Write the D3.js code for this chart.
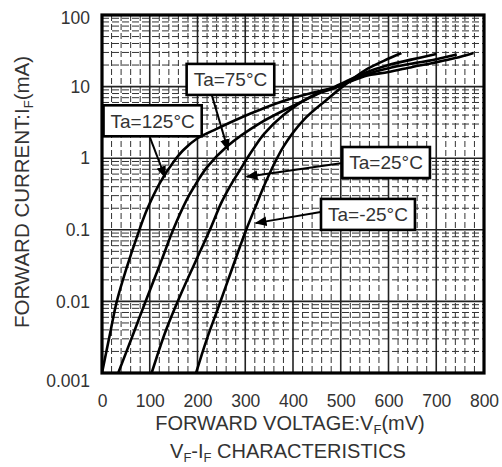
<!DOCTYPE html>
<html><head><meta charset="utf-8">
<script src="https://cdn.jsdelivr.net/npm/d3@7"></script>
<style>body{margin:0;background:#fff}svg{display:block}text{font-family:"Liberation Sans",Arial,sans-serif;fill:#333}</style>
</head><body>
<script>
// ---- data (forward voltage mV, forward current mA) ----
const xTicks = [0,100,200,300,400,500,600,700,800];
const yTicks = [0.001,0.01,0.1,1,10,100];
const yTickLabels = ["0.001","0.01","0.1","1","10","100"];

const vf125 = [0,17,31,52,73,94,121,150,170,200,240,310,380,450,490,550,600,650,693,740,778];
const if125 = [0.001,0.0036,0.01,0.03,0.079,0.19,0.45,0.89,1.29,1.9,2.57,4.17,6.3,8.5,9.8,14,16,18.8,21.4,25,29.5];

const vf75 = [34,66,90,125,149,177,191,220,261,331,415,460,490,550,600,650,693,743];
const if75 = [0.001,0.0036,0.0095,0.038,0.1,0.26,0.38,0.75,1.45,3.1,6,8.3,9.7,14.5,18,21,23.5,28];

const vf25 = [104,133,163,195,226,250,272,290,304,320,340,380,436,488,550,600,650,700];
const if25 = [0.001,0.0038,0.0117,0.035,0.1,0.24,0.45,0.7,1.0,1.45,2.2,4.0,7.2,10,15.5,20,24,28.5];

const vfm25 = [197,219,247,275,302,324,345,380,422,470,512,554,590,627];
const ifm25 = [0.001,0.0029,0.0095,0.032,0.1,0.23,0.5,1.45,3.4,6.5,11,17.4,22.9,29.5];

const seriesNames = ["Ta=125°C","Ta=75°C","Ta=25°C","Ta=-25°C"];
// label box centres and arrow (start -> tip) in data units
const labelV = [106,269,595,557];
const labelI = [3.33,12.6,0.87,0.164];
const arrowFromV = [100,230,504,458];
const arrowFromI = [1.98,7.6,0.857,0.177];
const arrowToV = [132,264,303,322];
const arrowToI = [0.546,1.30,0.552,0.124];

const W=502,H=467;
const x = d3.scaleLinear([0,800],[102,484]);
const y = d3.scaleLog([0.001,100],[373,15]);

const svg = d3.select("body").append("svg").attr("width",W).attr("height",H);
svg.append("rect").attr("width",W).attr("height",H).attr("fill","#fff");

// minor grid
const minorX = d3.range(0,801,20).filter(v=>v%100!==0);
const minorY = [];
yTicks.slice(0,-1).forEach(d=>{for(let k=2;k<=9;k++) minorY.push(d*k);});
const g = svg.append("g");
g.selectAll(".mx").data(minorX).join("line")
  .attr("x1",d=>x(d)).attr("x2",d=>x(d)).attr("y1",y(100)).attr("y2",y(0.001))
  .attr("stroke","#333").attr("stroke-width",1).attr("stroke-dasharray","6,3");
g.selectAll(".my").data(minorY).join("line")
  .attr("y1",d=>y(d)).attr("y2",d=>y(d)).attr("x1",x(0)).attr("x2",x(800))
  .attr("stroke","#333").attr("stroke-width",1).attr("stroke-dasharray","7,3");
// major grid
g.selectAll(".Mx").data(xTicks).join("line")
  .attr("x1",d=>x(d)).attr("x2",d=>x(d)).attr("y1",y(100)).attr("y2",y(0.001))
  .attr("stroke","#222").attr("stroke-width",1.6);
g.selectAll(".My").data(yTicks).join("line")
  .attr("y1",d=>y(d)).attr("y2",d=>y(d)).attr("x1",x(0)).attr("x2",x(800))
  .attr("stroke","#222").attr("stroke-width",1.6);

// curves
const allV=[vf125,vf75,vf25,vfm25], allI=[if125,if75,if25,ifm25];
const line = d3.line().x(d=>x(d[0])).y(d=>y(d[1])).curve(d3.curveCatmullRom.alpha(0.5));
const clip = svg.append("clipPath").attr("id","c").append("rect")
  .attr("x",x(0)).attr("y",y(100)).attr("width",x(800)-x(0)).attr("height",y(0.001)-y(100));
allV.forEach((vs,i)=>{
  svg.append("path").attr("clip-path","url(#c)")
    .attr("d",line(vs.map((v,j)=>[v,allI[i][j]])))
    .attr("fill","none").attr("stroke","#000").attr("stroke-width",2.6);
});

// frame
svg.append("rect").attr("x",x(0)).attr("y",y(100)).attr("width",x(800)-x(0)).attr("height",y(0.001)-y(100))
  .attr("fill","none").attr("stroke","#000").attr("stroke-width",3.2);

// axes
const ax = svg.append("g").attr("transform",`translate(0,${y(0.001)})`)
  .call(d3.axisBottom(x).tickValues(xTicks).tickSize(0).tickPadding(22).tickFormat(d3.format("d")));
ax.select(".domain").remove();
ax.selectAll("text").attr("font-size",17.5).attr("fill","#333").attr("font-family","Liberation Sans, Arial, sans-serif");
const ay = svg.append("g").attr("transform",`translate(${x(0)},0)`)
  .call(d3.axisLeft(y).tickValues(yTicks).tickSize(0).tickPadding(12).tickFormat((d,i)=>yTickLabels[i]));
ay.select(".domain").remove();
ay.selectAll("text").attr("font-size",17.5).attr("fill","#333").attr("font-family","Liberation Sans, Arial, sans-serif")
  .attr("dy",(d,i)=> i===0 ? "0.75em" : (i===yTicks.length-1 ? "0.5em":"0.32em"));

// axis titles
const t1 = svg.append("text").attr("x",290).attr("y",430).attr("text-anchor","middle").attr("font-size",20);
t1.append("tspan").text("FORWARD VOLTAGE:V");
t1.append("tspan").attr("font-size",13).attr("dy",4).text("F");
t1.append("tspan").attr("dy",-4).text("(mV)");
const t2 = svg.append("text").attr("x",288).attr("y",458).attr("text-anchor","middle").attr("font-size",20);
t2.append("tspan").text("V");
t2.append("tspan").attr("font-size",13).attr("dy",4).text("F");
t2.append("tspan").attr("dy",-4).text("-I");
t2.append("tspan").attr("font-size",13).attr("dy",4).text("F");
t2.append("tspan").attr("dy",-4).text(" CHARACTERISTICS");
const t3 = svg.append("text").attr("transform","translate(29,192) rotate(-90)").attr("text-anchor","middle").attr("font-size",20.5);
t3.append("tspan").text("FORWARD CURRENT:I");
t3.append("tspan").attr("font-size",13).attr("dy",4).text("F");
t3.append("tspan").attr("dy",-4).text("(mA)");

// arrows
svg.append("defs").append("marker").attr("id","ah").attr("viewBox","0 0 10 10")
  .attr("refX",9).attr("refY",5).attr("markerWidth",12).attr("markerHeight",12)
  .attr("markerUnits","userSpaceOnUse").attr("orient","auto")
  .append("path").attr("d","M0,1 L10,5 L0,9 Z").attr("fill","#000");
seriesNames.forEach((n,i)=>{
  svg.append("line").attr("x1",x(arrowFromV[i])).attr("y1",y(arrowFromI[i]))
    .attr("x2",x(arrowToV[i])).attr("y2",y(arrowToI[i]))
    .attr("stroke","#000").attr("stroke-width",2).attr("marker-end","url(#ah)");
});
// label boxes
seriesNames.forEach((n,i)=>{
  const cx=x(labelV[i]), cy=y(labelI[i]);
  const grp=svg.append("g");
  const txt=grp.append("text").attr("x",cx).attr("y",cy).attr("dy","0.36em")
    .attr("text-anchor","middle").attr("font-size",19).text(n);
  const bb=txt.node().getBBox();
  grp.insert("rect","text").attr("x",bb.x-7).attr("y",cy-15.5).attr("width",bb.width+14).attr("height",31)
    .attr("fill","#fff").attr("stroke","#000").attr("stroke-width",2.6);
});
</script>
</body></html>
